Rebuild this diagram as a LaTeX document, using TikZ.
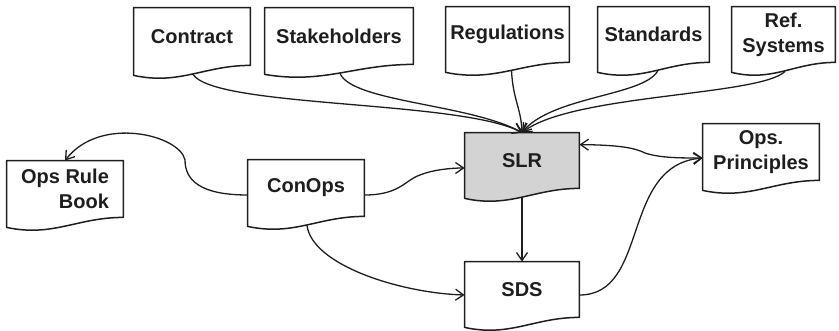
\documentclass[tikz,border=0pt]{standalone}
\usepackage{fontspec}
\setmainfont{Liberation Sans}
\usetikzlibrary{arrows.meta,calc,backgrounds}
\definecolor{ink}{HTML}{1E1E1E}
\definecolor{slrfill}{HTML}{D3D3D3}
\tikzset{
  doc/.style 2 args={inner sep=0pt, minimum width=#1*0.5pt, minimum height=#2*0.5pt,
    font=\bfseries\fontsize{10}{12.5}\selectfont, text=ink, align=center},
  docline/.style={draw=ink, line width=0.75pt, line join=round},
  link/.style={draw=ink, line width=0.65pt, -{Straight Barb[length=4pt,width=5.5pt]}},
  bilink/.style={draw=ink, line width=0.65pt,
    {Straight Barb[length=4pt,width=5.5pt]}-{Straight Barb[length=4pt,width=5.5pt]}},
}
\begin{document}
\begin{tikzpicture}[x=0.5pt,y=-0.5pt]
\useasboundingbox (0,0) rectangle (839,331);

% document boxes (the node is the part above the wavy lower edge)
\node[doc={116}{57}] (contract)     at (192,36.5)   {Contract};
\node[doc={148}{56}] (stakeholders) at (339,36)     {Stakeholders};
\node[doc={123}{55}] (regulations)  at (507.5,34.5) {Regulations};
\node[doc={111}{55}] (standards)    at (653.5,34.5) {Standards};
\node[doc={103}{55}] (refsys)       at (783.5,34.5) {Ref.\\Systems};
\node[doc={116}{56}, align=right] (opsrule) at (65,189) {Ops Rule\\Book};
\node[doc={116}{56}] (conops)       at (306,188)    {ConOps};
\node[doc={114}{55}] (slr)          at (522,160.5)  {SLR};
\node[doc={116}{56}] (opsprin)      at (761,152)    {Ops.\\Principles};
\node[doc={114}{55}] (sds)          at (522,289.5)  {SDS};

% outlines with the wavy bottom edge
\begin{scope}[on background layer]
\foreach \n/\w/\f in {contract/116/white, stakeholders/148/white, regulations/123/white,
    standards/111/white, refsys/103/white, opsrule/116/white, conops/116/white,
    slr/114/slrfill, opsprin/116/white, sds/114/white}{
  \draw[docline, fill=\f] ($(\n.south west)+(0,10)$)
     .. controls +(0.4*\w,10) and +(-0.4*\w,0) .. (\n.south east)
     -- (\n.north east) -- (\n.north west) -- cycle;
}
\end{scope}

% inputs to the SLR
\draw[link] ($(contract.south)+(1,9)$)
   .. controls (215,108) and (460,100) .. (slr.north);
\draw[link] ($(stakeholders.south)+(1,9)$)
   .. controls (352,102) and (470,104) .. (slr.north);
\draw[link] ($(regulations.south)+(4,8)$)
   .. controls (513,100) and (521,108) .. (slr.north);
\draw[link] ($(standards.south)+(4.5,8)$)
   .. controls (645,96) and (552,96) .. (slr.north);
\draw[link] ($(refsys.south)+(1.5,9)$)
   .. controls (760,96) and (572,94) .. (slr.north);

% ConOps relations
\draw[link] ($(conops.west)+(0,7)$)
   .. controls (200,195) and (185,180) .. (185,160)
   .. controls (180,135) and (100,115) .. (opsrule.north);
\draw[link] ($(conops.east)+(0,7)$)
   .. controls (400,195) and (405,180) .. (420,175)
   .. controls (432,170) and (450,168) .. ($(slr.west)+(0,7.5)$);
\draw[link] ($(conops.south)+(1,9)$)
   .. controls (312,265) and (400,293) .. ($(sds.west)+(0,5.5)$);

% SLR, SDS and operating principles
\draw[link] ($(slr.south)+(0,9)$) -- (sds.north);
\draw[bilink] ($(slr.north east)+(0,12)$)
   .. controls (620,145) and (635,148) .. (645,153)
   .. controls (660,158) and (680,158) .. ($(opsprin.west)+(0,6)$);
\draw[link] ($(sds.east)+(0,5.5)$)
   .. controls (650,295) and (620,165) .. ($(opsprin.west)+(0,6)$);
\end{tikzpicture}
\end{document}
